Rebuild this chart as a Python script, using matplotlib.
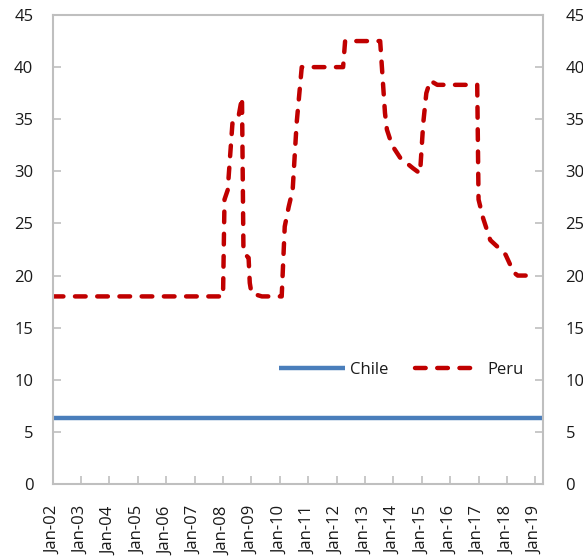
import matplotlib
matplotlib.use("Agg")
import matplotlib.pyplot as plt
import matplotlib.dates as mdates
import pandas as pd

# ---- data ----
chile_dates = ["2002-01-01", "2019-04-15"]
chile_values = [6.3, 6.3]

peru_dates = [
    "2002-01-01", "2008-01-01", "2008-01-20", "2008-03-01", "2008-05-01",
    "2008-07-15", "2008-09-01", "2008-09-20", "2008-11-25", "2008-12-10",
    "2009-01-01", "2009-05-15", "2010-01-25", "2010-03-05", "2010-04-25",
    "2010-06-15", "2010-08-05", "2010-10-10", "2012-03-25", "2012-04-20",
    "2013-07-15", "2013-09-15", "2013-10-10", "2013-12-15", "2014-03-30",
    "2014-09-10", "2014-12-10", "2015-01-20", "2015-03-01", "2015-04-20",
    "2015-07-20", "2016-12-15", "2017-01-01", "2017-03-01", "2017-06-01",
    "2017-10-10", "2017-12-15", "2018-03-30", "2018-05-20", "2019-01-20",
]
peru_values = [
    18.0, 18.0, 27.3, 28.2, 34.6,
    35.1, 37.1, 22.2, 21.7, 19.3,
    18.3, 18.0, 18.0, 24.7, 26.6,
    28.2, 34.6, 40.0, 40.0, 42.5,
    42.5, 35.6, 34.0, 32.5, 31.3,
    30.3, 29.8, 34.6, 37.5, 38.7,
    38.3, 38.3, 27.3, 25.5, 23.4,
    22.5, 22.0, 20.3, 20.0, 20.0,
]
y_ticks = [0, 5, 10, 15, 20, 25, 30, 35, 40, 45]
x_tick_years = list(range(2002, 2020))

# ---- style ----
plt.rcParams['font.family'] = ['Open Sans', 'DejaVu Sans']
spine_color = "#BFBFBF"
text_color = "#1a1a1a"

fig = plt.figure(figsize=(5.83, 5.58), dpi=100)
ax = fig.add_axes([0.0905, 0.1326, 0.8415, 0.8405])

ax.plot(pd.to_datetime(chile_dates), chile_values, color="#4A7EBB",
        lw=3.2, solid_capstyle="butt", label="Chile")
ax.plot(pd.to_datetime(peru_dates), peru_values, color="#C00000",
        lw=3.2, dashes=(2.4, 2.6), dash_capstyle="round",
        dash_joinstyle="round", label="Peru")

ax.set_ylim(0, 45)
ax.set_yticks(y_ticks)
ax.set_xlim(pd.Timestamp("2002-01-01"), pd.Timestamp("2019-04-15"))
ax.set_xticks([pd.Timestamp(f"{y}-01-01") for y in x_tick_years])
ax.xaxis.set_major_formatter(mdates.DateFormatter("%b-%y"))

for s in ax.spines.values():
    s.set_color(spine_color)
    s.set_linewidth(1.5)

ax.tick_params(axis="both", direction="in", length=6, width=1.2,
               color=spine_color, labelsize=12, labelcolor=text_color)
ax.tick_params(axis="y", pad=14)
ax.tick_params(axis="x", pad=16, labelrotation=90)

ax2 = ax.twinx()
ax2.set_ylim(0, 45)
ax2.set_yticks(y_ticks)
for s in ax2.spines.values():
    s.set_visible(False)
ax2.tick_params(axis="y", direction="in", length=6, width=1.2,
                color=spine_color, labelsize=12, labelcolor=text_color, pad=16)

leg = ax.legend(loc="center", bbox_to_anchor=(0.71, 0.243), ncol=2,
                frameon=False, fontsize=12, handlelength=3.95,
                columnspacing=1.6, handletextpad=0.35)
for t in leg.get_texts():
    t.set_color(text_color)

fig.savefig("out.png", dpi=100)
